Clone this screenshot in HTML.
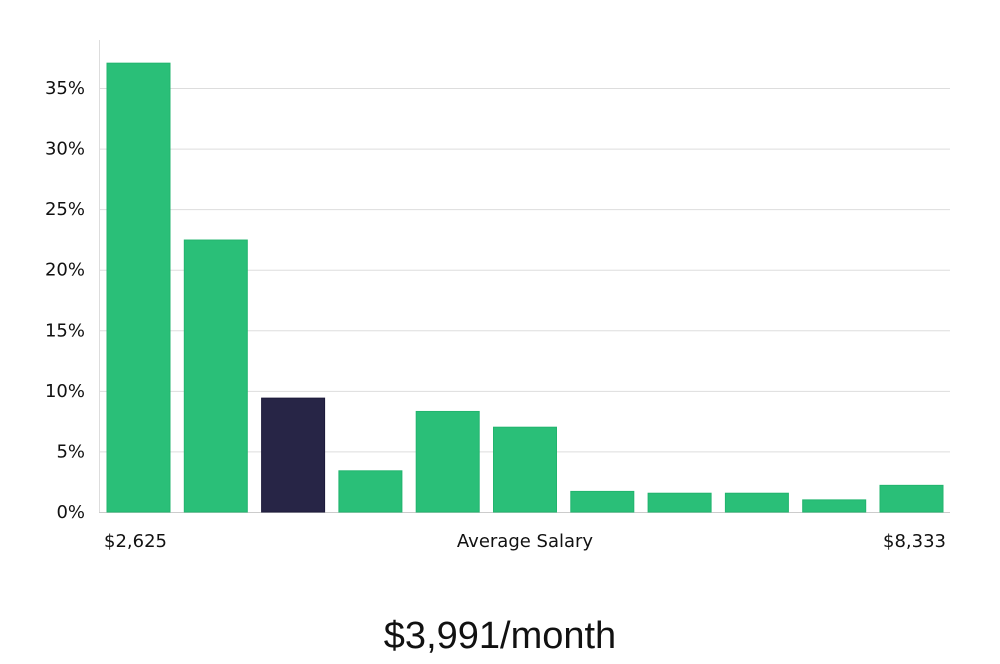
<!DOCTYPE html>
<html><head><meta charset="utf-8"><style>
body{margin:0;background:#fff;width:1000px;height:660px;overflow:hidden;font-family:"DejaVu Sans","Liberation Sans",sans-serif}
svg text{font-family:"DejaVu Sans","Liberation Sans",sans-serif;fill:#111}
</style></head><body>
<svg id="chart" width="1000" height="660" xmlns="http://www.w3.org/2000/svg">
<g id="grid"></g>
<g id="bars"></g>
<g id="yticks"></g>
<line x1="99.5" y1="40" x2="99.5" y2="512" stroke="#ddd"/>
<text x="104" y="547" font-size="18">$2,625</text>
<text x="525" y="547" font-size="18" text-anchor="middle">Average Salary</text>
<text x="946" y="547" font-size="18" text-anchor="end">$8,333</text>
<text x="500" y="648" font-size="38" font-weight="300" text-anchor="middle" style="font-family:'Liberation Sans',sans-serif">$3,991/month</text>
</svg>
<script>
const values=[37.05,22.45,9.4,3.4,8.3,7.0,1.7,1.55,1.55,1.0,2.2];
const highlight=[false,false,true,false,false,false,false,false,false,false,false];
const ticks=[0,5,10,15,20,25,30,35];
const NS="http://www.w3.org/2000/svg";
const y0=512,pxPerPct=(512-88)/35;
const y=v=>y0-v*pxPerPct;
const x=i=>107+i*77.3;
const bw=63;
const g=document.getElementById('grid'),b=document.getElementById('bars'),t=document.getElementById('yticks');
ticks.forEach(v=>{
 const l=document.createElementNS(NS,'line');
 
 
 l.setAttribute('x1',99);l.setAttribute('x2',950);l.setAttribute('y1',y(v)+0.5);l.setAttribute('y2',y(v)+0.5);
 l.setAttribute('stroke',v===0?'#ccc':'#ddd');g.appendChild(l);
 const tx=document.createElementNS(NS,'text');
 
 
 tx.setAttribute('x',85);tx.setAttribute('y',y(v)+6);tx.setAttribute('text-anchor','end');tx.setAttribute('font-size','18');
 tx.textContent=v+'%';t.appendChild(tx);
});
values.forEach((v,i)=>{
 const r=document.createElementNS(NS,'rect');
 
 
 r.setAttribute('x',x(i));r.setAttribute('y',y(v));r.setAttribute('width',bw);r.setAttribute('height',y0-y(v));
 r.setAttribute('fill',highlight[i]?'#272546':'#2abf78');
 r.setAttribute('stroke',highlight[i]?'#1c1a3a':'#22b46e');
 b.appendChild(r);
});
</script>
</body></html>
